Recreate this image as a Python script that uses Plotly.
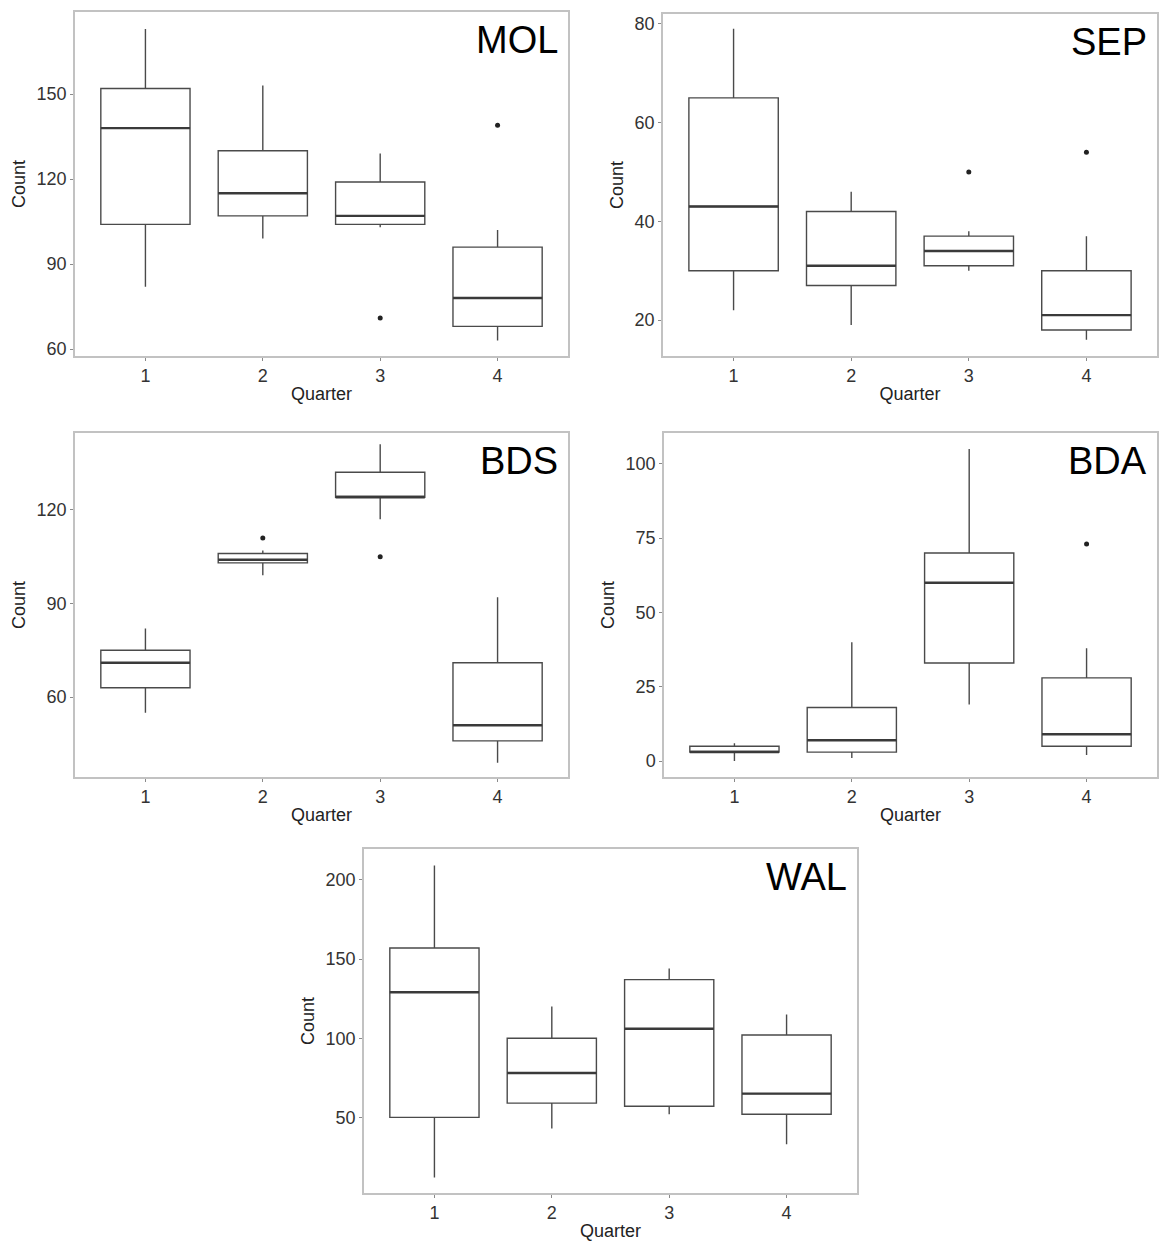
import plotly.graph_objects as go

quarters = [1, 2, 3, 4]
tick_text = ["1", "2", "3", "4"]

# MOL
mol_lower = [82, 99, 103, 63]
mol_q1 = [104, 107, 104, 68]
mol_median = [138, 115, 107, 78]
mol_q3 = [152, 130, 119, 96]
mol_upper = [173, 153, 129, 102]
mol_out_x = [3, 4]
mol_out_y = [71, 139]

# SEP
sep_lower = [22, 19, 30, 16]
sep_q1 = [30, 27, 31, 18]
sep_median = [43, 31, 34, 21]
sep_q3 = [65, 42, 37, 30]
sep_upper = [79, 46, 38, 37]
sep_out_x = [3, 4]
sep_out_y = [50, 54]

# BDS
bds_lower = [55, 99, 117, 39]
bds_q1 = [63, 103, 124, 46]
bds_median = [71, 104, 124, 51]
bds_q3 = [75, 106, 132, 71]
bds_upper = [82, 107, 141, 92]
bds_out_x = [2, 3]
bds_out_y = [111, 105]

# BDA
bda_lower = [0, 1, 19, 2]
bda_q1 = [3, 3, 33, 5]
bda_median = [3, 7, 60, 9]
bda_q3 = [5, 18, 70, 28]
bda_upper = [6, 40, 105, 38]
bda_out_x = [4]
bda_out_y = [73]

# WAL
wal_lower = [12, 43, 52, 33]
wal_q1 = [50, 59, 57, 52]
wal_median = [129, 78, 106, 65]
wal_q3 = [157, 100, 137, 102]
wal_upper = [209, 120, 144, 115]
wal_out_x = []
wal_out_y = []

panels = [
    ("MOL", mol_lower, mol_q1, mol_median, mol_q3, mol_upper, mol_out_x, mol_out_y,
     [57.5, 179], [60, 90, 120, 150]),
    ("SEP", sep_lower, sep_q1, sep_median, sep_q3, sep_upper, sep_out_x, sep_out_y,
     [12.7, 82], [20, 40, 60, 80]),
    ("BDS", bds_lower, bds_q1, bds_median, bds_q3, bds_upper, bds_out_x, bds_out_y,
     [34.4, 144.6], [60, 90, 120]),
    ("BDA", bda_lower, bda_q1, bda_median, bda_q3, bda_upper, bda_out_x, bda_out_y,
     [-5.4, 110.4], [0, 25, 50, 75, 100]),
    ("WAL", wal_lower, wal_q1, wal_median, wal_q3, wal_upper, wal_out_x, wal_out_y,
     [2.2, 219.5], [50, 100, 150, 200]),
]

W, H = 1159, 1243
# pixel frames: (left, right, top, bottom)
frames = [
    (75, 568, 12, 357),
    (663, 1157, 14, 357),
    (75, 568, 434, 779),
    (664, 1157, 434, 779),
    (364, 857, 851, 1196),
]

BOXW = 0.76
fig = go.Figure()
FONT = "Liberation Sans, Arial, sans-serif"
LINE = "#4a4a4a"
layout = {}
for i, (name, lo, q1, med, q3, up, ox, oy, yr, yt) in enumerate(panels):
    n = "" if i == 0 else str(i + 1)
    xa, ya = "x" + n, "y" + n
    fig.add_trace(go.Box(
        x=quarters, q1=q1, median=med, q3=q3, lowerfence=lo, upperfence=up,
        xaxis=xa, yaxis=ya, width=BOXW, whiskerwidth=0,
        fillcolor="white", line=dict(color=LINE, width=1.4),
        boxpoints=False, showlegend=False, hoverinfo="y",
    ))
    # thicker median segments (as in ggplot)
    mx, my = [], []
    for q, m in zip(quarters, med):
        mx += [q - BOXW / 2, q + BOXW / 2, None]
        my += [m, m, None]
    fig.add_trace(go.Scatter(
        x=mx, y=my, mode="lines", xaxis=xa, yaxis=ya,
        line=dict(color="#3a3a3a", width=2.4), showlegend=False, hoverinfo="skip",
    ))
    if ox:
        fig.add_trace(go.Scatter(
            x=ox, y=oy, mode="markers", xaxis=xa, yaxis=ya,
            marker=dict(color="#222222", size=5), showlegend=False,
        ))
    l, r, t, b = frames[i]
    common = dict(showline=True, mirror=True, linecolor="#c2c2c2", linewidth=1.5,
                  showgrid=False, zeroline=False, ticks="outside", ticklen=3,
                  tickcolor="#8a8a8a", tickwidth=1,
                  tickfont=dict(family=FONT, size=18, color="#333333"))
    layout["xaxis" + n] = dict(
        domain=[l / W, r / W], anchor=ya, range=[0.4, 4.6],
        tickvals=quarters, ticktext=tick_text,
        title=dict(text="Quarter", font=dict(family=FONT, size=18, color="#222222"), standoff=2),
        **common)
    layout["yaxis" + n] = dict(
        domain=[1 - b / H, 1 - t / H], anchor=xa, range=yr, tickvals=yt,
        title=dict(text="Count", font=dict(family=FONT, size=18, color="#222222"), standoff=6),
        **common)
    fig.add_annotation(
        text=name, xref=xa + " domain", yref=ya + " domain", x=0.983, y=0.985,
        xanchor="right", yanchor="top", showarrow=False,
        font=dict(family=FONT, size=38, color="#000000"),
    )

fig.update_layout(
    width=W, height=H, margin=dict(l=0, r=0, t=0, b=0),
    paper_bgcolor="white", plot_bgcolor="white",
    **layout,
)
fig.write_html(
    "out.html",
    config={"displayModeBar": False},
    post_script="document.body.style.margin='0';document.body.style.overflow='hidden';",
)
